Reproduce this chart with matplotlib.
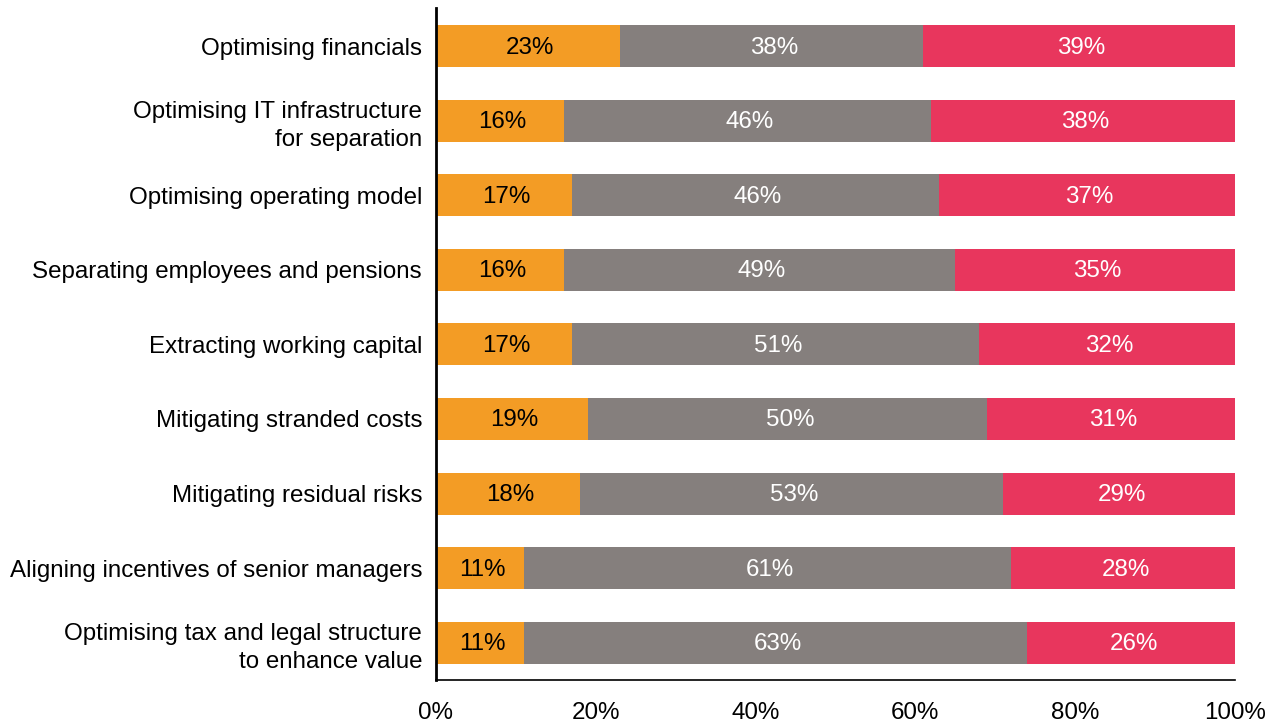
import numpy as np
import matplotlib
matplotlib.use("Agg")
import matplotlib.pyplot as plt

categories = [
    "Optimising financials",
    "Optimising IT infrastructure\nfor separation",
    "Optimising operating model",
    "Separating employees and pensions",
    "Extracting working capital",
    "Mitigating stranded costs",
    "Mitigating residual risks",
    "Aligning incentives of senior managers",
    "Optimising tax and legal structure\nto enhance value",
]
orange_vals = [23, 16, 17, 16, 17, 19, 18, 11, 11]
gray_vals = [38, 46, 46, 49, 51, 50, 53, 61, 63]
red_vals = [39, 38, 37, 35, 32, 31, 29, 28, 26]
ticks = [0, 20, 40, 60, 80, 100]

plt.rcParams['font.family'] = ['Liberation Sans', 'DejaVu Sans']
fs = 17.4

fig = plt.figure(figsize=(12.79, 7.24), dpi=100)
ax = fig.add_axes([436/1279, 1 - 680/724, (1235 - 436)/1279, (680 - 8)/724])

y = np.arange(len(categories))
h = 0.563
series = [(orange_vals, "#F39C25", "black"),
          (gray_vals, "#857F7D", "white"),
          (red_vals, "#E8365D", "white")]
left = np.zeros(len(categories))
for vals, col, tcol in series:
    vals = np.array(vals, dtype=float)
    ax.barh(y, vals, left=left, height=h, color=col, linewidth=0)
    for yi, l, v in zip(y, left, vals):
        ax.text(l + v / 2 + 0.3, yi + 0.02, f"{int(v)}%", ha="center", va="center",
                color=tcol, fontsize=fs)
    left += vals

ax.set_xlim(0, 100)
ax.set_ylim(8.5, -0.51)
ax.set_yticks(y)
ax.set_yticklabels(categories, fontsize=fs, linespacing=1.37)
ax.set_xticks(ticks)
ax.set_xticklabels([f"{t}%" for t in ticks], fontsize=fs)
ax.tick_params(axis="both", length=0)
ax.tick_params(axis="y", pad=10)
ax.tick_params(axis="x", pad=16)
for s in ["top", "right"]:
    ax.spines[s].set_visible(False)
ax.spines["left"].set_linewidth(2)
ax.spines["bottom"].set_linewidth(1.2)

fig.savefig("out.png", dpi=100)
